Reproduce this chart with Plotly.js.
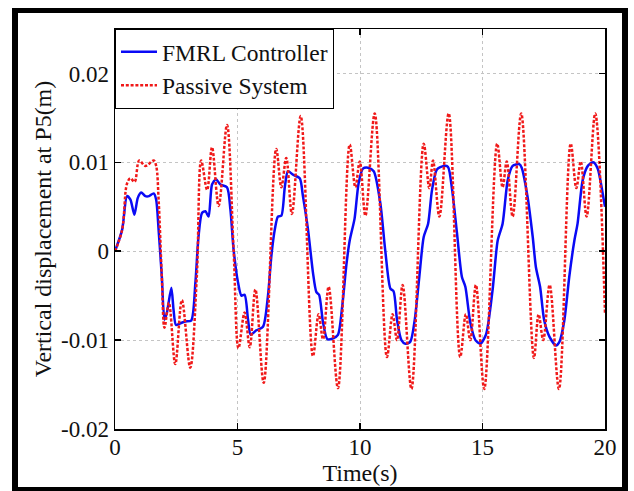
<!DOCTYPE html>
<html>
<head>
<meta charset="utf-8">
<script src="https://cdn.plot.ly/plotly-3.0.1.min.js"></script>
<style>
  html, body { margin: 0; padding: 0; background: #fff; }
  #wrap { position: relative; width: 634px; height: 491px; overflow: hidden; }
  #chart { position: absolute; left: 0; top: 0; width: 634px; height: 491px; }
  #frame { position: absolute; left: 12px; top: 8px; width: 604px; height: 474px;
           border-left: 6px solid #000; border-top: 5px solid #000;
           border-right: 6px solid #000; border-bottom: 4px solid #000; pointer-events: none; }
</style>
</head>
<body>
<div id="wrap">
  <div id="chart"></div>
  <div id="frame"></div>
</div>
<script>
// ---- Data ----
const seriesNames = ["FMRL Controller", "Passive System"];

const passiveTime = [0, 0.29, 0.49, 0.63, 0.8, 0.99, 1.24, 1.58, 1.68, 1.78, 1.91, 2.02, 2.2, 2.46, 2.73, 3.07,
  3.34, 3.52, 3.76, 3.96, 4.23, 4.57, 4.84, 5.04, 5.29, 5.5, 5.73, 6.07, 6.58, 6.79, 6.99, 7.22, 7.58,
  8.08, 8.31, 8.49, 8.72, 9.1, 9.58, 9.81, 9.99, 10.22, 10.6, 11.1, 11.33, 11.51, 11.74, 12.1,
  12.6, 12.83, 12.98, 13.24, 13.62, 14.09, 14.32, 14.5, 14.73, 15.07, 15.6, 15.82, 15.99, 16.23, 16.58,
  17.1, 17.29, 17.48, 17.74, 18.12, 18.6, 18.83, 19.01, 19.25, 19.6, 20];
const passiveValue = [0, 0.0024, 0.0076, 0.0082, 0.0078, 0.0102, 0.0096, 0.0102, 0.0096, 0.0058, -0.0028, -0.0086, -0.0058, -0.0127, -0.0055, -0.0131,
  -0.0028, 0.0102, 0.0069, 0.0117, 0.0051, 0.0142, 0.0002, -0.0109, -0.0069, -0.0108, -0.0043, -0.0148, 0.0115, 0.0072, 0.0105, 0.0042, 0.0152,
  -0.0118, -0.0071, -0.0099, -0.004, -0.0154, 0.012, 0.0072, 0.0101, 0.004, 0.0155, -0.0119, -0.0071, -0.01, -0.0038, -0.0155,
  0.0121, 0.0071, 0.0102, 0.0039, 0.0155, -0.0119, -0.0071, -0.01, -0.0038, -0.0155, 0.0121, 0.0072, 0.0101, 0.0039, 0.0155,
  -0.012, -0.0071, -0.01, -0.0038, -0.0155, 0.0121, 0.0071, 0.0101, 0.0039, 0.0155, -0.007];

const fmrlTime = [0, 0.29, 0.49, 0.63, 0.79, 0.93, 1.07, 1.24, 1.39, 1.58, 1.68, 1.78, 1.91, 2.02, 2.12, 2.3, 2.39, 2.49,
  2.67, 2.87, 3.11, 3.28, 3.41, 3.55, 3.69, 3.82, 3.96, 4.12, 4.3, 4.57, 4.71, 4.84, 5.02, 5.16, 5.29, 5.43,
  5.54, 5.77, 6.04, 6.24, 6.38, 6.52, 6.65, 6.79, 6.93, 7.06, 7.27, 7.54, 7.67, 7.88, 8.08, 8.22, 8.33,
  8.49, 8.67, 8.9, 9.1, 9.27, 9.45, 9.58, 9.78, 9.94, 10.12, 10.33, 10.56, 10.83, 11.03, 11.24, 11.37,
  11.51, 11.69, 11.85, 12.05, 12.23, 12.42, 12.6, 12.78, 12.94, 13.14, 13.42, 13.59, 13.76, 13.96, 14.16,
  14.3, 14.5, 14.71, 14.91, 15.14, 15.41, 15.62, 15.82, 16.03, 16.23, 16.5, 16.6, 16.84, 17.05, 17.18,
  17.35, 17.52, 17.73, 18.0, 18.14, 18.34, 18.54, 18.75, 18.88, 19.09, 19.3, 19.52, 19.7, 19.93, 20];
const fmrlValue = [0, 0.0024, 0.0062, 0.0058, 0.0041, 0.006, 0.0066, 0.0062, 0.0062, 0.0065, 0.0058, 0.0024, -0.0028, -0.0077, -0.0069, -0.0041, -0.0066, -0.0083,
  -0.0081, -0.0079, -0.0078, -0.0036, 0.0017, 0.0043, 0.0045, 0.0039, 0.0075, 0.0081, 0.0075, 0.0072, 0.0047, 0.0002, -0.0035, -0.005, -0.0049, -0.0077,
  -0.0094, -0.0089, -0.0085, -0.0051, -0.0006, 0.0024, 0.0039, 0.004, 0.0072, 0.009, 0.0086, 0.0082, 0.0062, 0.0024, -0.0024, -0.0046, -0.0049,
  -0.008, -0.0099, -0.0098, -0.0094, -0.0063, -0.0014, 0.0012, 0.0037, 0.0076, 0.0093, 0.0094, 0.009, 0.0054, 0.0001, -0.0042, -0.0045,
  -0.0077, -0.01, -0.0104, -0.0102, -0.0078, -0.0029, 0.0016, 0.0031, 0.0069, 0.0092, 0.0096, 0.0095, 0.0069, 0.002, -0.0029,
  -0.004, -0.008, -0.01, -0.0104, -0.0094, -0.0044, 0.0012, 0.0031, 0.008, 0.0096, 0.0098, 0.0094, 0.0061, 0.0016, -0.0018,
  -0.004, -0.0078, -0.0096, -0.0106, -0.0102, -0.0078, -0.0029, 0.0012, 0.0031, 0.008, 0.0096, 0.01, 0.0093, 0.0061, 0.005];

const xTickVals = [0, 5, 10, 15, 20];
const xTickText = ["0", "5", "10", "15", "20"];
const yTickVals = [-0.02, -0.01, 0, 0.01, 0.02];
const yTickText = ["-0.02", "-0.01", "0", "0.01", "0.02"];
const xTitle = "Time(s)";
const yTitle = "Vertical displacement at P5(m)";

// ---- Chart ----
const FONT = "Liberation Serif, Times New Roman, serif";

const traces = [
  {
    x: fmrlTime, y: fmrlValue, name: seriesNames[0], type: "scatter", mode: "lines",
    line: { color: "rgb(10,10,245)", width: 2.5, shape: "spline", smoothing: 0.7 }
  },
  {
    x: passiveTime, y: passiveValue, name: seriesNames[1], type: "scatter", mode: "lines",
    line: { color: "rgb(240,25,25)", width: 2.5, dash: "3px,1.8px", shape: "spline", smoothing: 1 }
  }
];

const axisCommon = {
  showline: true, linecolor: "#000", linewidth: 1.5, mirror: "ticks",
  ticks: "inside", ticklen: 6, tickwidth: 1.5, tickcolor: "#000",
  showgrid: true, gridcolor: "#c4c4c4", gridwidth: 1, griddash: "dot",
  zeroline: false, tickfont: { family: FONT, size: 23, color: "#111" }
};

const layout = {
  width: 634, height: 491,
  margin: { l: 115, r: 29, t: 29, b: 62 },
  paper_bgcolor: "#fff", plot_bgcolor: "#fff",
  showlegend: true,
  legend: {
    x: 0, y: 1, xanchor: "left", yanchor: "top",
    bgcolor: "#fff", bordercolor: "#000", borderwidth: 1,
    font: { family: FONT, size: 23.5, color: "#111" },
    itemwidth: 36, tracegroupgap: 0
  },
  xaxis: Object.assign({}, axisCommon, {
    range: [0, 20], tickvals: xTickVals, ticktext: xTickText,
    ticklabelstandoff: -3,
    title: { text: xTitle, font: { family: FONT, size: 24, color: "#111" }, standoff: 0 }
  }),
  yaxis: Object.assign({}, axisCommon, {
    range: [-0.02, 0.025], tickvals: yTickVals, ticktext: yTickText,
    title: { text: yTitle, font: { family: FONT, size: 24, color: "#111" }, standoff: 2 }
  })
};

Plotly.newPlot("chart", traces, layout, { displayModeBar: false, staticPlot: true });
</script>
</body>
</html>
